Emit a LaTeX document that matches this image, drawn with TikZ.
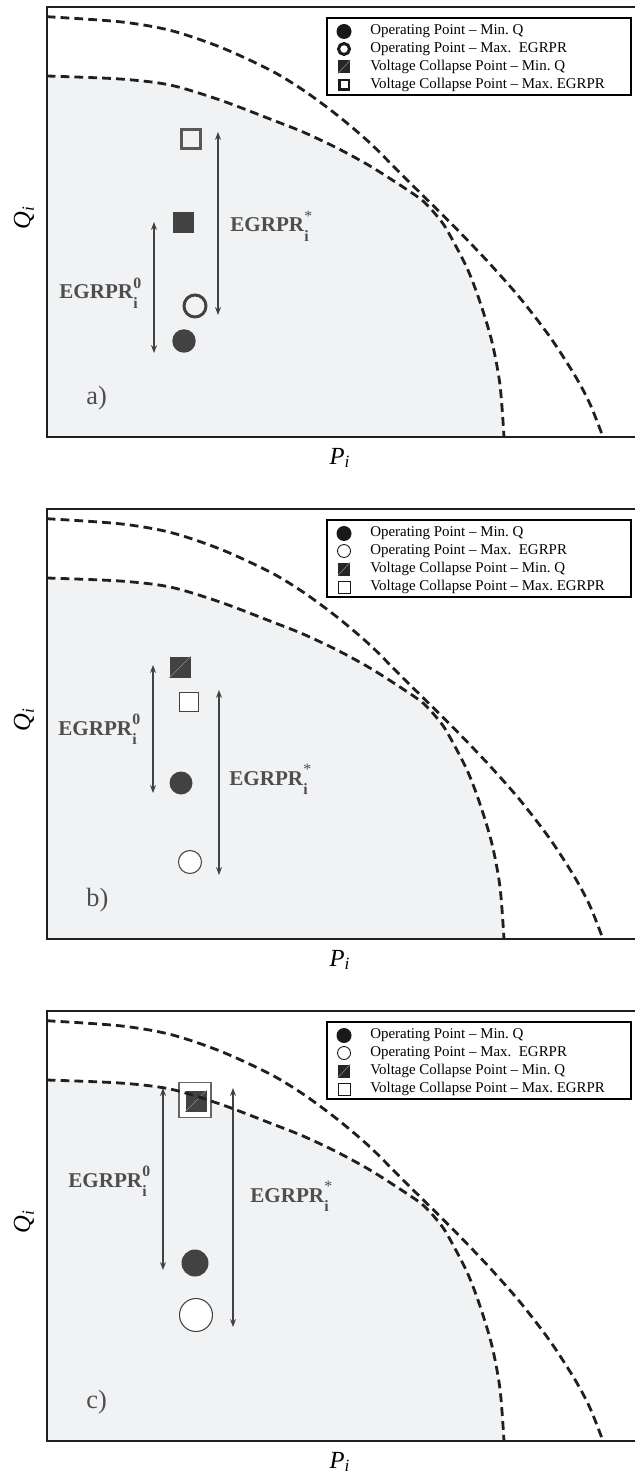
\documentclass[tikz,border=0pt]{standalone}
\usepackage{amsmath}
\usepackage{fontspec}
\setmainfont{Liberation Serif}
\usetikzlibrary{positioning,arrows.meta}

\definecolor{regiongray}{RGB}{241,242,244}
\definecolor{markgray}{RGB}{66,66,66}
\definecolor{labelgray}{RGB}{78,78,78}

% margin label with stacked index
\newcommand{\egrpr}[1]{\textbf{EGRPR}\rlap{\raisebox{1.05ex}{\fontsize{9}{9}\selectfont #1}}\raisebox{-0.95ex}{\fontsize{9}{9}\selectfont\textbf{i}}}

\begin{document}
\begin{tikzpicture}[x=0.02cm,y=-0.02cm,
  framelines/.style={line width=1.1pt,black!88},
  limit/.style={line width=1.6pt,black!88,dash pattern=on 5pt off 2.9pt},
  region/.style={fill=regiongray,draw=none},
  arr/.style={{Stealth[length=4.5pt,width=3.4pt]}-{Stealth[length=4.5pt,width=3.4pt]},line width=0.6pt,markgray},
  eglabel/.style={anchor=base west,inner sep=0pt,text=labelgray,font=\fontsize{12}{14}\selectfont},
  panlabel/.style={anchor=base west,inner sep=0pt,text=labelgray,font=\fontsize{15}{18}\selectfont},
  axlabel/.style={inner sep=0pt,font=\fontsize{14}{16}\selectfont},
  legbox/.style={draw,line width=1pt,fill=white,minimum width=6.08cm,minimum height=1.54cm,inner sep=0pt},
  legtext/.style={anchor=west,inner sep=0pt,font=\fontsize{8.5}{10}\selectfont},
  dotfill/.style={circle,fill=markgray,inner sep=0pt,minimum size=#1},
  dotopen/.style={circle,draw=markgray,inner sep=0pt,minimum size=#1},
  sqfill/.style={rectangle,fill=markgray,inner sep=0pt,minimum size=#1},
  sqopen/.style={rectangle,draw=markgray,inner sep=0pt,minimum size=#1},
  slash/.style={line width=0.3pt,black!45},
]
\useasboundingbox (0,0) rectangle (635,1476);

% === feasible regions ===
\foreach \dy in {0,502,1004}{
\begin{scope}[shift={(0,\dy)}]
  \fill[region] (46.7,437) -- plot[smooth] coordinates {(46.7,76) (120,79) (170,85) (220,100) (270,119) (303,132) (337,148) (370,166) (403,187) (423,201) (437,216) (447,230) (467,268) (480,302) (492,342) (500,385) (504,437)} -- cycle;
\end{scope}}

% === a) ===
\node[sqopen=0.38cm,draw=black!65,line width=1.7pt] (vcmaxa) at (191,139) {};
\node[sqfill=0.42cm] (vcmina) at (183,223) {};
\node[dotopen=0.44cm,line width=1.7pt] (opmaxa) at (195,306) {};
\node[dotfill=0.47cm] (opmina) at (184,341) {};
\coordinate (sta) at (218,132);
\coordinate (sba) at (218,315);
\coordinate (zta) at (154,222);
\coordinate (zba) at (154,353);
\draw[arr] (sta) -- (sba);
\draw[arr] (zta) -- (zba);
\node[eglabel] (egsa) at (230,232) {\egrpr{*}};
\node[eglabel] (egza) at (59,299) {\egrpr{\textbf{0}}};

% === b) ===
\node[sqfill=0.42cm] (vcminb) at (180,667) {};
\draw[slash] (vcminb.south west) -- (vcminb.north east);
\node[sqopen=0.38cm,fill=white,line width=0.6pt] (vcmaxb) at (189,702) {};
\node[dotfill=0.46cm] (opminb) at (181,783) {};
\node[dotopen=0.46cm,fill=white,line width=0.6pt] (opmaxb) at (190,862) {};
\coordinate (ztb) at (153,665);
\coordinate (zbb) at (153,793);
\coordinate (stb) at (219,690);
\coordinate (sbb) at (219,875);
\draw[arr] (ztb) -- (zbb);
\draw[arr] (stb) -- (sbb);
\node[eglabel] (egzb) at (58,735) {\egrpr{\textbf{0}}};
\node[eglabel] (egsb) at (229,785) {\egrpr{*}};

% === c) ===
\node[rectangle,draw=black!60,fill=white,line width=0.6pt,minimum width=0.64cm,minimum height=0.7cm] (vcmaxc) at (195,1100) {};
\node[sqfill=0.42cm] (vcminc) at (196,1101) {};
\draw[slash] (vcminc.south west) -- (vcminc.north east);
\node[dotfill=0.54cm] (opminc) at (195,1263) {};
\node[dotopen=0.66cm,fill=white,line width=0.6pt] (opmaxc) at (196,1315) {};
\coordinate (ztc) at (163,1088);
\coordinate (zbc) at (163,1270);
\coordinate (stc) at (233,1088);
\coordinate (sbc) at (233,1327);
\draw[arr] (ztc) -- (zbc);
\draw[arr] (stc) -- (sbc);
\node[eglabel] (egzc) at (68,1187) {\egrpr{\textbf{0}}};
\node[eglabel] (egsc) at (250,1202) {\egrpr{*}};

% === limits, axes, legends ===
\foreach \p/\dy/\rw/\rs/\qs in {a/0/1.7pt/0.22cm/0.2cm, b/502/0.5pt/0.26cm/0.24cm, c/1004/0.5pt/0.26cm/0.24cm}{
\begin{scope}[shift={(0,\dy)}]
  \draw[limit] plot[smooth] coordinates {(46.7,76) (120,79) (170,85) (220,100) (270,119) (303,132) (337,148) (370,166) (403,187) (423,201) (437,216) (447,230) (467,268) (480,302) (492,342) (500,385) (504,437)};
  \draw[limit] plot[smooth] coordinates {(46.7,16.7) (120,21.8) (170,30.3) (220,47) (270,70) (303,90) (337,115) (370,143) (403,176) (430,202.5) (460,232.5) (490,264) (520,298) (550,337) (575,375.7) (590,404) (603,437)};
  \draw[framelines] (635,7.3) -- (46.7,7.3) -- (46.7,437) -- (635,437);
  \node[axlabel,rotate=90] (q\p) at (24,218) {\textit{Q}$_{\textit{i}}$};
  \node[axlabel] (pp\p) at (340,458) {\textit{P}$_{\textit{i}}$};
  \node[panlabel] (lab\p) at (86,404) {\p)};
  % legend
  \node[legbox] (leg\p) at (479,56.5) {};
  \node[circle,fill=black!90,inner sep=0pt,minimum size=0.3cm] (leg\p1) at (344,31.5) {};
  \node[circle,draw=black!90,line width=\rw,inner sep=0pt,minimum size=\rs] (leg\p2) at (344,49) {};
  \node[rectangle,fill=black!85,inner sep=0pt,minimum width=0.24cm,minimum height=0.26cm] (leg\p3) at (344,67) {};
  \draw[slash] (leg\p3.south west) -- (leg\p3.north east);
  \node[rectangle,draw=black!90,line width=\rw,inner sep=0pt,minimum size=\qs] (leg\p4) at (344,85) {};
  \node[legtext] (legt\p1) at (370,31.5) {Operating Point -- Min.\ Q};
  \node[legtext] (legt\p2) at (370,49) {Operating Point -- Max.\ \ EGRPR};
  \node[legtext] (legt\p3) at (370,67) {Voltage Collapse Point -- Min.\ Q};
  \node[legtext] (legt\p4) at (370,85) {Voltage Collapse Point -- Max.\ EGRPR};
\end{scope}}

\end{tikzpicture}
\end{document}
